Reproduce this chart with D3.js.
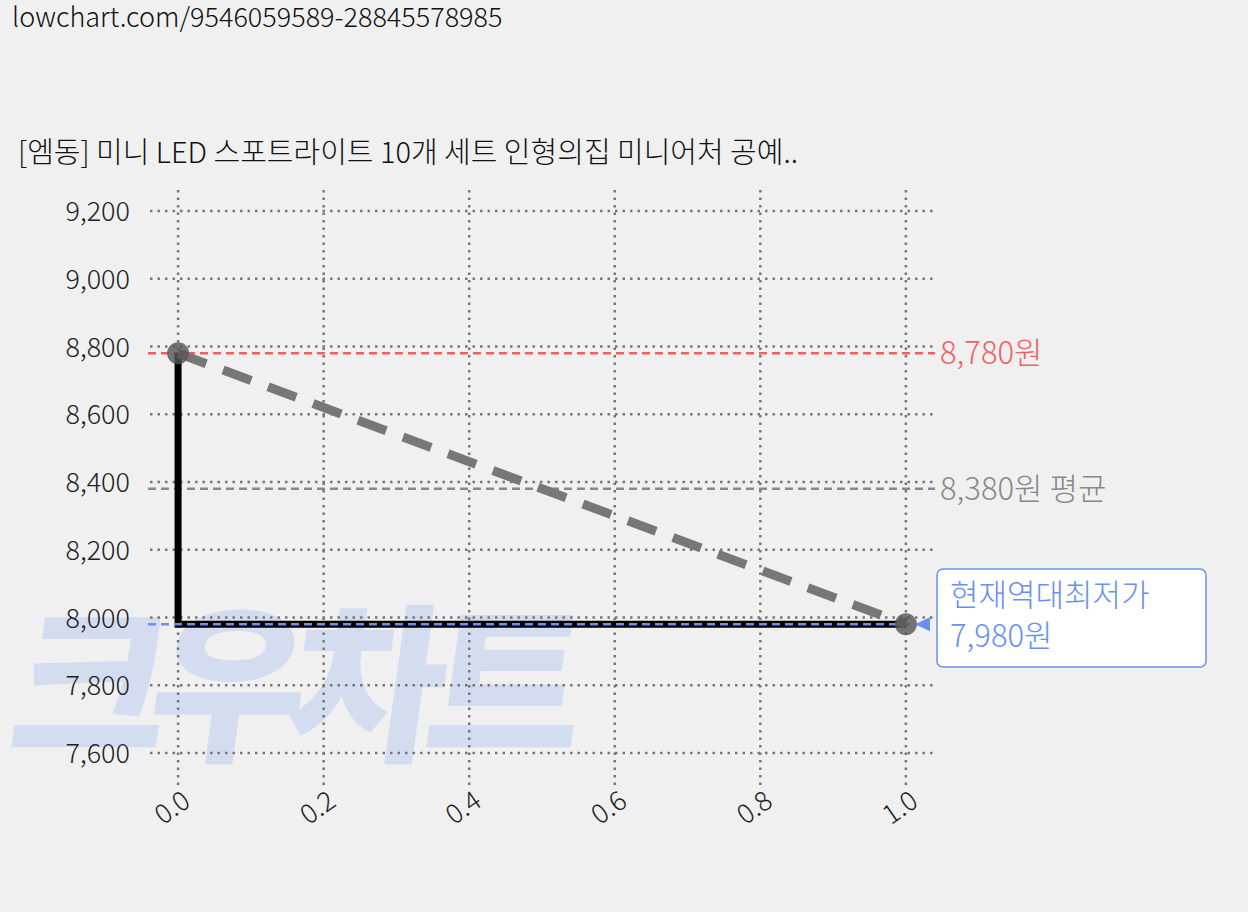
<!DOCTYPE html><html><head><meta charset="utf-8">
<script src="https://cdn.jsdelivr.net/npm/d3@7"></script>
<style>body{margin:0;background:#f0f0f0;font-family:"Noto Sans CJK KR","Noto Sans",sans-serif}</style></head><body>
<svg id="c" width="1248" height="912"></svg>
<script>
const xs=[0,1];
const priceStep=[8780,7980];
const trend=[8780,7980];
const yTicks=[7600,7800,8000,8200,8400,8600,8800,9000,9200];
const xTicks=[0,0.2,0.4,0.6,0.8,1.0];
const maxPrice=8780, avgPrice=8380, minPrice=7980;
const title="[엠동] 미니 LED 스포트라이트 10개 세트 인형의집 미니어처 공예..";
const svg=d3.select("#c").attr("font-family","Noto Sans CJK KR");
const x=d3.scaleLinear().domain([-0.0386,1.04]).range([150,935]);
const y=d3.scaleLinear().domain([7600,9200]).range([753,211]);
svg.append("text").attr("x",12).attr("y",27).attr("font-size",27).attr("fill","#111").attr("font-weight",300).text("lowchart.com/9546059589-28845578985");
svg.append("text").attr("x",18).attr("y",163).attr("font-size",29).attr("fill","#111").attr("font-weight",300).text(title);
// watermark
svg.append("text").attr("x",0).attr("y",748).attr("font-size",170).attr("font-weight",900)
 .attr("fill","#d4ddf0").attr("transform","translate(110,0) skewX(-8)").attr("letter-spacing",-18).text("크우차트");
const g=svg.append("g");
yTicks.forEach(t=>g.append("line").attr("x1",150).attr("x2",935).attr("y1",y(t)).attr("y2",y(t)).attr("stroke","#777").attr("stroke-width",2.5).attr("stroke-dasharray","2.5,5"));
xTicks.forEach(t=>g.append("line").attr("x1",x(t)).attr("x2",x(t)).attr("y1",190).attr("y2",785).attr("stroke","#777").attr("stroke-width",2.5).attr("stroke-dasharray","2.5,5"));
yTicks.forEach(t=>svg.append("text").attr("x",130).attr("y",y(t)+10).attr("text-anchor","end").attr("font-size",27).attr("font-weight",300).attr("fill","#222").text(d3.format(",")(t)));
xTicks.forEach(t=>svg.append("text").attr("transform",`translate(${x(t)+14},${805}) rotate(-35)`).attr("text-anchor","end").attr("font-size",27).attr("font-weight",300).attr("fill","#222").text(t.toFixed(1)));
svg.append("line").attr("x1",148).attr("x2",935).attr("y1",y(maxPrice)).attr("y2",y(maxPrice)).attr("stroke","#f06060").attr("stroke-width",2.5).attr("stroke-dasharray","8,5");
svg.append("line").attr("x1",148).attr("x2",935).attr("y1",y(avgPrice)).attr("y2",y(avgPrice)).attr("stroke","#888").attr("stroke-width",2.5).attr("stroke-dasharray","8,5");
const step=d3.line().x(d=>x(d[0])).y(d=>y(d[1])).curve(d3.curveStepBefore);
svg.append("path").attr("d",step(xs.map((v,i)=>[v,priceStep[i]]))).attr("fill","none").attr("stroke","#000").attr("stroke-width",7);
svg.append("line").attr("x1",148).attr("x2",925).attr("y1",y(minPrice)).attr("y2",y(minPrice)).attr("stroke","#6a8ff0").attr("stroke-width",2.5).attr("stroke-dasharray","8,5");
svg.append("path").attr("d",d3.line().x(d=>x(d[0])).y(d=>y(d[1]))(xs.map((v,i)=>[v,trend[i]]))).attr("stroke","#777").attr("stroke-width",9).attr("stroke-dasharray","30,18").attr("fill","none");
xs.forEach((v,i)=>svg.append("circle").attr("cx",x(v)).attr("cy",y(trend[i])).attr("r",11).attr("fill","#555").attr("opacity",0.8));
svg.append("text").attr("x",940).attr("y",y(maxPrice)+11).attr("font-size",31).attr("font-weight",300).attr("fill","#f06060").text(d3.format(",")(maxPrice)+"원");
svg.append("text").attr("x",940).attr("y",y(avgPrice)+11).attr("font-size",31).attr("font-weight",300).attr("fill","#888").text(d3.format(",")(avgPrice)+"원 평균");
svg.append("path").attr("d",`M915,${y(minPrice)} L930,${y(minPrice)-7} L930,${y(minPrice)+7}Z`).attr("fill","#6a8ff0");
svg.append("rect").attr("x",937).attr("y",569).attr("width",269).attr("height",98).attr("rx",6).attr("fill","#fff").attr("stroke","#6a8ff0").attr("stroke-width",1.5);
svg.append("text").attr("x",950).attr("y",606).attr("font-size",31).attr("font-weight",300).attr("fill","#6a8ff0").text("현재역대최저가");
svg.append("text").attr("x",950).attr("y",647).attr("font-size",31).attr("font-weight",300).attr("fill","#6a8ff0").text(d3.format(",")(minPrice)+"원");
</script></body></html>
